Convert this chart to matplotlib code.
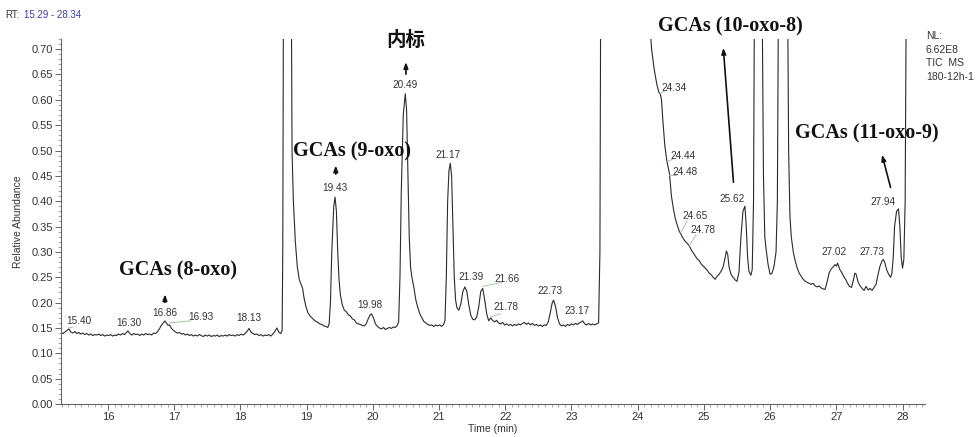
import matplotlib
matplotlib.use("Agg")
import matplotlib.pyplot as plt
from matplotlib.ticker import MultipleLocator, FormatStrFormatter

# TIC trace (time in min, relative abundance)
rt_min = [
    15.29, 15.32, 15.35, 15.38, 15.41, 15.44, 15.47, 15.50, 15.53, 15.56,
    15.59, 15.62, 15.65, 15.68, 15.71, 15.74, 15.77, 15.80, 15.83, 15.86,
    15.89, 15.92, 15.95, 15.98, 16.01, 16.04, 16.07, 16.10, 16.13, 16.16,
    16.19, 16.22, 16.25, 16.28, 16.30, 16.33, 16.36, 16.39, 16.42, 16.45,
    16.48, 16.51, 16.54, 16.57, 16.60, 16.63, 16.66, 16.69, 16.72, 16.75,
    16.78, 16.81, 16.84, 16.86, 16.89, 16.91, 16.93, 16.96, 16.99, 17.02,
    17.05, 17.08, 17.11, 17.14, 17.17, 17.20, 17.23, 17.26, 17.29, 17.32,
    17.35, 17.38, 17.41, 17.44, 17.47, 17.50, 17.53, 17.56, 17.59, 17.62,
    17.65, 17.68, 17.71, 17.74, 17.77, 17.80, 17.83, 17.86, 17.89, 17.92,
    17.95, 17.98, 18.01, 18.04, 18.07, 18.10, 18.13, 18.16, 18.19, 18.22,
    18.25, 18.28, 18.31, 18.34, 18.37, 18.40, 18.43, 18.46, 18.49, 18.52,
    18.55, 18.58, 18.61, 18.63,
    18.64, 18.65, 18.70, 18.76, 18.77, 18.78, 18.80, 18.83, 18.86, 18.89,
    18.92, 18.94, 18.96, 18.99, 19.02, 19.05, 19.08, 19.11, 19.14, 19.17,
    19.20, 19.23, 19.26, 19.29, 19.32, 19.34, 19.36, 19.38, 19.41, 19.43,
    19.45, 19.47, 19.49, 19.51, 19.54, 19.57, 19.60, 19.63, 19.66, 19.69,
    19.72, 19.75, 19.78, 19.81, 19.84, 19.87, 19.90, 19.93, 19.96, 19.98,
    20.01, 20.04, 20.07, 20.10, 20.13, 20.16, 20.19, 20.22, 20.25, 20.28,
    20.31, 20.34, 20.37, 20.39, 20.41, 20.43, 20.46, 20.49, 20.51, 20.53,
    20.55, 20.57, 20.59, 20.62, 20.65, 20.68, 20.71, 20.74, 20.77, 20.80,
    20.83, 20.86, 20.89, 20.92, 20.95, 20.98, 21.01, 21.04, 21.07, 21.09,
    21.11, 21.13, 21.15, 21.17, 21.19, 21.21, 21.23, 21.25, 21.27, 21.30,
    21.33, 21.36, 21.39, 21.42, 21.45, 21.48, 21.51, 21.54, 21.57, 21.60,
    21.63, 21.66, 21.69, 21.72, 21.75, 21.78, 21.81, 21.84, 21.87, 21.90,
    21.93, 21.96, 21.99, 22.02, 22.05, 22.08, 22.11, 22.14, 22.17, 22.20,
    22.23, 22.26, 22.29, 22.32, 22.35, 22.38, 22.41, 22.44, 22.47, 22.50,
    22.53, 22.56, 22.59, 22.62, 22.65, 22.68, 22.71, 22.73, 22.76, 22.79,
    22.82, 22.85, 22.88, 22.91, 22.94, 22.97, 23.00, 23.03, 23.06, 23.09,
    23.12, 23.15, 23.17, 23.20, 23.23, 23.26, 23.29, 23.32, 23.35, 23.38,
    23.41, 23.43, 23.45, 24.15, 24.18, 24.21, 24.25, 24.29, 24.32, 24.34,
    24.36, 24.38, 24.41, 24.44, 24.46, 24.48, 24.51, 24.54, 24.57, 24.60,
    24.63, 24.65, 24.68, 24.71, 24.74, 24.78, 24.81, 24.84, 24.87, 24.90,
    24.93, 24.96, 24.99, 25.02, 25.05, 25.08, 25.11, 25.14, 25.17, 25.20,
    25.23, 25.26, 25.29, 25.32, 25.34, 25.36, 25.38, 25.41, 25.44, 25.47,
    25.50, 25.53, 25.56, 25.59, 25.62, 25.64, 25.66, 25.68, 25.71, 25.73,
    25.75, 25.77, 25.85, 25.88, 25.90, 25.92, 25.94, 25.97, 26.00, 26.03,
    26.06, 26.09, 26.11, 26.13, 26.20, 26.26, 26.28, 26.30, 26.32, 26.35,
    26.38, 26.41, 26.44, 26.47, 26.50, 26.53, 26.56, 26.59, 26.62, 26.65,
    26.68, 26.71, 26.74, 26.77, 26.80, 26.83, 26.86, 26.89, 26.92, 26.95,
    26.98, 27.00, 27.02, 27.05, 27.08, 27.11, 27.14, 27.17, 27.20, 27.23,
    27.26, 27.28, 27.30, 27.33, 27.36, 27.39, 27.42, 27.45, 27.48, 27.51,
    27.54, 27.57, 27.60, 27.63, 27.66, 27.69, 27.71, 27.73, 27.76, 27.79,
    27.82, 27.84, 27.86, 27.88, 27.91, 27.94, 27.96, 27.98, 28.00, 28.02,
    28.04, 28.06, 28.10, 28.34,
]
rel_abundance = [
    .141, .139, .142, .145, .148, .142, .140, .143, .139, .141,
    .138, .140, .137, .139, .136, .138, .135, .137, .136, .138,
    .135, .137, .134, .136, .135, .137, .134, .136, .135, .138,
    .136, .139, .137, .141, .144, .139, .136, .139, .137, .138,
    .135, .138, .136, .139, .137, .138, .136, .140, .139, .143,
    .149, .156, .161, .164, .158, .155, .156, .149, .145, .142,
    .140, .141, .138, .139, .136, .138, .135, .137, .134, .136,
    .134, .137, .135, .133, .136, .134, .136, .133, .135, .134,
    .136, .133, .135, .134, .136, .134, .137, .135, .136, .134,
    .137, .135, .138, .136, .139, .143, .149, .142, .139, .137,
    .138, .135, .137, .134, .136, .135, .137, .134, .138, .143,
    .150, .142, .139, .145,
    .30, .80, 1.50, 1.20, .80, .50, .40, .32, .27, .245,
    .235, .228, .210, .192, .180, .174, .170, .166, .163, .161,
    .158, .157, .154, .153, .151, .158, .20, .30, .39, .408,
    .38, .30, .245, .215, .195, .185, .182, .176, .174, .168,
    .166, .160, .158, .157, .155, .154, .158, .168, .176, .178,
    .170, .158, .153, .150, .148, .151, .147, .149, .151, .149,
    .152, .151, .155, .162, .25, .42, .57, .612, .58, .45,
    .33, .27, .25, .23, .205, .19, .178, .170, .163, .160,
    .157, .155, .156, .153, .156, .154, .156, .153, .157, .165,
    .25, .40, .46, .475, .45, .35, .25, .205, .190, .185,
    .198, .222, .231, .222, .195, .175, .167, .166, .172, .192,
    .222, .228, .205, .178, .164, .170, .165, .162, .165, .160,
    .158, .161, .156, .158, .155, .157, .154, .157, .155, .158,
    .156, .159, .161, .157, .160, .156, .159, .155, .157, .154,
    .156, .153, .156, .155, .162, .180, .200, .205, .192, .170,
    .158, .154, .156, .153, .157, .155, .158, .156, .159, .157,
    .160, .162, .164, .158, .156, .159, .156, .158, .156, .158,
    .160, .30, 1.20, 1.20, .76, .70, .66, .63, .615, .612,
    .600, .560, .510, .480, .468, .455, .410, .385, .365, .352,
    .340, .336, .328, .322, .318, .312, .304, .298, .292, .286,
    .283, .276, .272, .268, .264, .258, .255, .250, .246, .252,
    .256, .262, .270, .288, .302, .295, .270, .256, .250, .245,
    .242, .260, .330, .380, .390, .350, .290, .262, .254, .265,
    .40, 1.0, 1.5, .80, .45, .33, .305, .275, .256, .258,
    .272, .300, .40, .90, 1.5, .90, .50, .37, .33, .300,
    .282, .268, .258, .252, .246, .242, .240, .238, .236, .238,
    .233, .231, .233, .229, .227, .226, .240, .258, .266, .270,
    .275, .272, .278, .266, .260, .252, .246, .238, .232, .230,
    .245, .258, .256, .240, .233, .228, .224, .232, .225, .228,
    .224, .230, .236, .255, .272, .282, .285, .280, .265, .256,
    .250, .258, .290, .350, .380, .385, .350, .290, .268, .285,
    .40, .90, 1.5, 1.5,
]

# retention-time labels printed by the software
peak_labels = ["15.40", "16.30", "16.86", "16.93", "18.13", "19.43", "19.98",
               "20.49", "21.17", "21.39", "21.66", "21.78", "22.73", "23.17",
               "24.34", "24.44", "24.48", "24.65", "24.78", "25.62", "27.02",
               "27.73", "27.94"]
label_pos = [(15.56, 0.164), (16.31, 0.160), (16.86, 0.180), (17.41, 0.172),
             (18.12, 0.170), (19.43, 0.426), (19.96, 0.195), (20.49, 0.629),
             (21.14, 0.491), (21.49, 0.251), (22.02, 0.246), (22.01, 0.191),
             (22.68, 0.222), (23.09, 0.184), (24.55, 0.624), (24.68, 0.489),
             (24.71, 0.458), (24.87, 0.371), (24.99, 0.343), (25.43, 0.404),
             (26.96, 0.299), (27.54, 0.299), (27.71, 0.399)]
# leader lines (peak -> label) for displaced labels
leaders = [((15.40, 0.150), (15.47, 0.152)), ((16.93, 0.160), (17.25, 0.164)),
           ((21.66, 0.232), (21.95, 0.240)), ((21.78, 0.172), (21.93, 0.178)),
           ((24.34, 0.612), (24.44, 0.620)), ((24.44, 0.478), (24.55, 0.484)),
           ((24.48, 0.452), (24.58, 0.452)), ((24.65, 0.338), (24.75, 0.362)),
           ((24.78, 0.312), (24.88, 0.334))]

compounds = ["GCAs (8-oxo)", "GCAs (9-oxo)", "内标", "GCAs (10-oxo-8)",
             "GCAs (11-oxo-9)"]
compound_text = [(17.06, 0.263), (19.69, 0.498), (20.50, 0.718),
                 (25.40, 0.744), (27.46, 0.534)]
compound_arrow = [((16.86, 0.195), (16.86, 0.222)),
                  ((19.44, 0.448), (19.44, 0.476)),
                  ((20.50, 0.645), (20.50, 0.680)),
                  ((25.45, 0.432), (25.29, 0.708)),
                  ((27.83, 0.422), (27.68, 0.497))]

fig = plt.figure(figsize=(9.77, 4.37), dpi=100)
ax = fig.add_axes([0.0624, 0.0755, 0.8844, 0.8353])

ax.plot(rt_min, rel_abundance, color="#2b2b2b", lw=0.8)
ax.set_xlim(15.29, 28.34)
ax.set_ylim(0, 0.72)

for spine in ("top", "right"):
    ax.spines[spine].set_visible(False)
for spine in ("left", "bottom"):
    ax.spines[spine].set_color("#666666")
    ax.spines[spine].set_linewidth(0.8)

ax.xaxis.set_major_locator(MultipleLocator(1))
ax.xaxis.set_minor_locator(MultipleLocator(0.1))
ax.yaxis.set_major_locator(MultipleLocator(0.05))
ax.yaxis.set_minor_locator(MultipleLocator(0.01))
ax.yaxis.set_major_formatter(FormatStrFormatter("%.2f"))
ax.tick_params(which="major", length=4, width=0.7, color="#666666",
               labelsize=8, labelcolor="#333333", pad=2,
               labelfontfamily="Liberation Sans")
ax.tick_params(which="minor", length=2, width=0.5, color="#888888")

ax.set_xlabel("Time (min)", fontsize=7.5, family="Liberation Sans",
              color="#333333", labelpad=1)
ax.set_ylabel("Relative Abundance", fontsize=7.5, family="Liberation Sans",
              color="#333333", labelpad=6)

for (p0, p1) in leaders:
    ax.plot([p0[0], p1[0]], [p0[1], p1[1]], color="#8cc88c", lw=0.6)

for txt, (lx, ly) in zip(peak_labels, label_pos):
    ax.text(lx, ly, txt, ha="center", va="center", fontsize=7.2,
            family="Liberation Sans", color="#333333")

for name, (tx, ty), (a0, a1) in zip(compounds, compound_text, compound_arrow):
    if name == "内标":
        ax.text(tx, ty, name, ha="center", va="center", fontsize=14,
                family=["Noto Sans CJK SC"], fontweight="bold",
                color="#111111", clip_on=False)
    else:
        ax.text(tx, ty, name, ha="center", va="center", fontsize=14.5,
                family="Liberation Serif", fontweight="bold",
                color="#111111", clip_on=False)
    ax.annotate("", xy=a1, xytext=a0,
                arrowprops=dict(arrowstyle="-|>,head_length=0.35,head_width=0.13",
                                color="#111111", lw=1.2),
                annotation_clip=False)

fig.text(5 / 977, 1 - 15 / 437, "RT:", fontsize=7, family="Liberation Sans",
         color="#333333", va="center")
fig.text(24 / 977, 1 - 15 / 437, "15.29 - 28.34", fontsize=7,
         family="Liberation Sans", color="#3c3ca0", va="center")
fig.text(926 / 977, 1 - 31 / 437, "NL:\n6.62E8\nTIC  MS\n180-12h-1",
         fontsize=7.5, family="Liberation Sans", color="#333333",
         va="top", linespacing=1.45)

fig.savefig("out.png", dpi=100)
